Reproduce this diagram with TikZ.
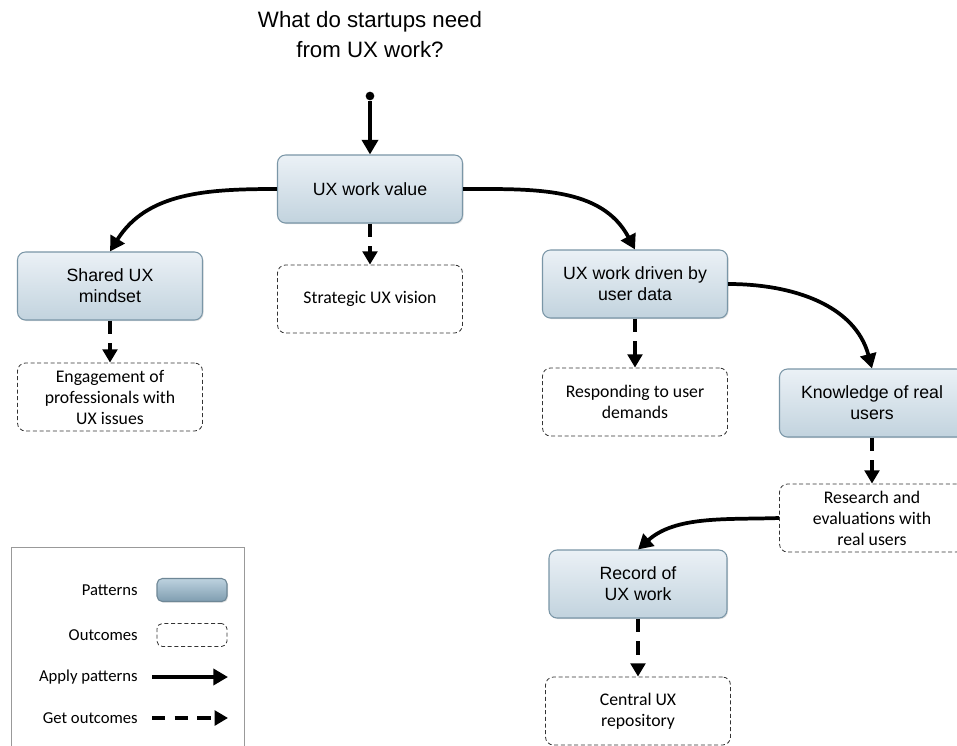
\documentclass[tikz,border=0pt]{standalone}
\usepackage{fontspec}
\setmainfont{Liberation Sans}
\newfontfamily\outfont{Carlito}
\usetikzlibrary{arrows.meta, positioning, shadows}
\definecolor{patTop}{HTML}{EBF1F6}
\definecolor{patBot}{HTML}{C2D3DE}
\definecolor{patEdge}{HTML}{7A96A7}
\definecolor{legTop}{HTML}{BDD2DF}
\definecolor{legBot}{HTML}{7F9DB0}
\definecolor{outEdge}{HTML}{333333}
\tikzset{
  patternbox/.style={
    rectangle,
    rounded corners=6pt,
    draw=patEdge,
    line width=0.8pt,
    top color=patTop,
    bottom color=patBot,
    align=center,
    minimum width=138.75pt,
    minimum height=51pt,
    font=\fontsize{13.3}{15.75}\selectfont,
    drop shadow={shadow xshift=0.8pt, shadow yshift=-0.8pt, opacity=0.25}
  },
  outcomebox/.style={
    rectangle,
    rounded corners=6pt,
    draw=outEdge,
    line width=0.6pt,
    dash pattern=on 3pt off 2pt,
    fill=white,
    align=center,
    minimum width=138.75pt,
    minimum height=51pt,
    font=\outfont\fontsize{13.3}{15.75}\selectfont
  },
  legendtext/.style={anchor=east, inner sep=0pt, font=\outfont\fontsize{12.5}{15}\selectfont},
  apply/.style={-{Triangle[length=11pt,width=12pt]}, line width=2.8pt},
  getout/.style={-{Triangle[length=10pt,width=11pt]}, line width=2.8pt, dash pattern=on 10pt off 7pt},
  startdot/.style={circle, fill=black, inner sep=0pt, minimum size=6.5pt}
}
\begin{document}
\begin{tikzpicture}[x=0.75pt,y=0.75pt]
\clip (0,0) rectangle (957,-746);
\fill[white] (0,0) rectangle (957,-746);

% question
\node[align=center, font=\fontsize{16.7}{22.5}\selectfont] (title) at (370,-35) {What do startups need\\from UX work?};
\node[startdot] (start) at (370,-96) {};

% patterns
\node[patternbox] (value) at (370,-189) {UX work value};
\node[patternbox] (shared) at (110,-286) {Shared UX\\mindset};
\node[patternbox] (driven) at (635,-284) {UX work driven by\\user data};
\node[patternbox] (knowledge) at (872,-403) {Knowledge of real\\users};
\node[patternbox, minimum width=133.5pt] (record) at (638,-584) {Record of\\UX work};

% outcomes
\node[outcomebox] (vision) at (370,-299) {Strategic UX vision};
\node[outcomebox] (engagement) at (110,-397) {Engagement of\\professionals with\\UX issues};
\node[outcomebox] (responding) at (635,-402) {Responding to user\\demands};
\node[outcomebox] (research) at (872,-518) {Research and\\evaluations with\\real users};
\node[outcomebox] (repository) at (638,-711) {Central UX\\repository};

% apply patterns
\draw[apply] (start) -- (value.north);
\draw[apply] (value.west) to[out=180,in=58] (shared.north);
\draw[apply] (value.east) to[out=0,in=118] (driven.north);
\draw[apply] (driven.east) to[out=0,in=105] (knowledge.north);
\draw[apply] (research.west) to[out=182,in=42,looseness=0.9] (record.north);

% get outcomes
\draw[getout] (value.south) -- (vision.north);
\draw[getout] (shared.south) -- (engagement.north);
\draw[getout] (driven.south) -- (responding.north);
\draw[getout] (knowledge.south) -- (research.north);
\draw[getout] (record.south) -- (repository.north);

% legend
\draw[draw=black!40, line width=0.7pt] (11,-547) rectangle (244,-760);
\node[legendtext] (legpat) at (138,-590) {Patterns};
\node[patternbox, minimum width=52.5pt, minimum height=17.25pt, rounded corners=4pt, top color=legTop, bottom color=legBot, draw=patEdge!90!black] (legpatbox) at (192,-590) {};
\node[legendtext] (legout) at (138,-635) {Outcomes};
\node[outcomebox, minimum width=52.5pt, minimum height=17.25pt, rounded corners=4pt] (legoutbox) at (192,-635) {};
\node[legendtext] (legapply) at (138,-677) {Apply patterns};
\coordinate (applyA) at (152,-677);
\coordinate (applyB) at (228,-677);
\draw[apply] (applyA) -- (applyB);
\node[legendtext] (legget) at (138,-718) {Get outcomes};
\coordinate (getA) at (152,-718);
\coordinate (getB) at (228,-718);
\draw[getout] (getA) -- (getB);
\end{tikzpicture}
\end{document}
